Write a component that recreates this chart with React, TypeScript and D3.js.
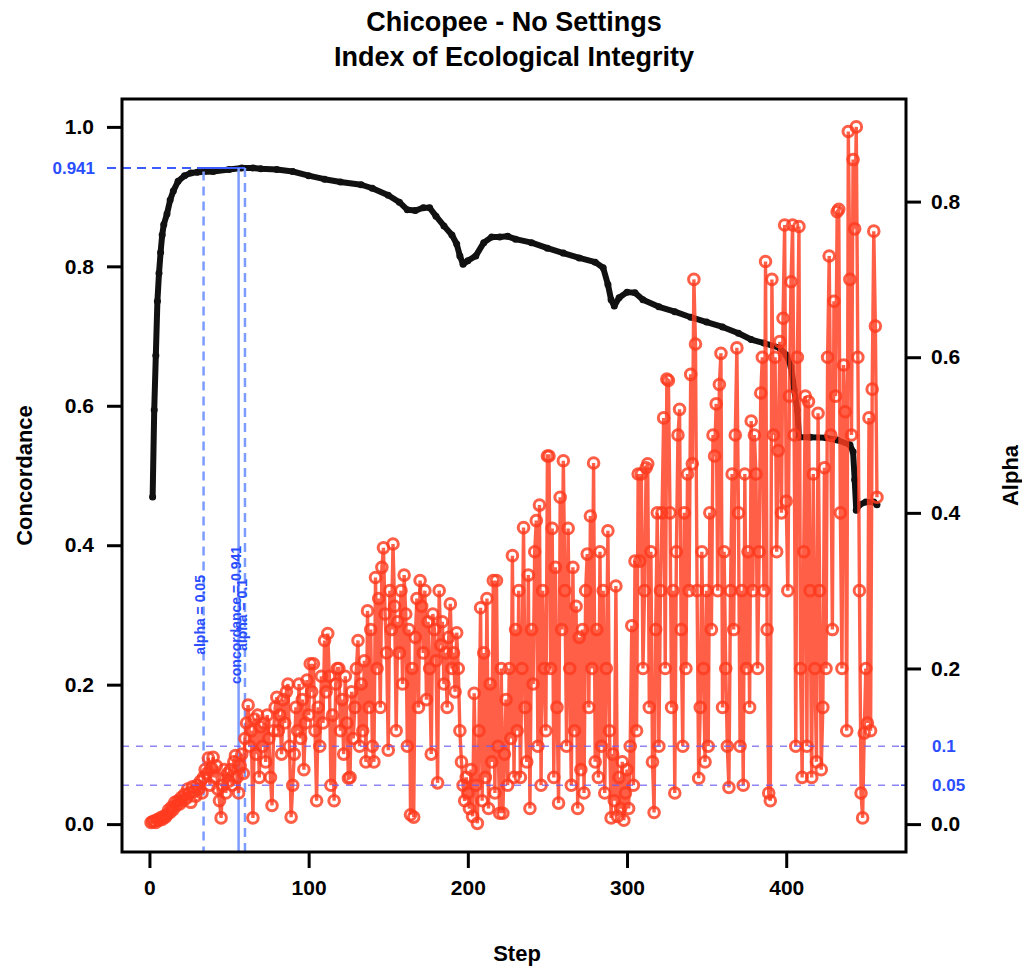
import React, { useEffect, useRef } from "react";
import * as d3 from "d3";

// chart text
const titleLines = ["Chicopee - No Settings", "Index of Ecological Integrity"];
const xLabel = "Step";
const yLeftLabel = "Concordance";
const yRightLabel = "Alpha";

// tick values
const stepTicks = [0, 100, 200, 300, 400];
const concTicks = [0, 0.2, 0.4, 0.6, 0.8, 1.0];
const alphaTicks = [0, 0.2, 0.4, 0.6, 0.8];
const alphaRefs = [0.1, 0.05];
const alphaRefLabels = ["0.1", "0.05"];

// concordance curve (at these steps)
const concSteps = [
  2, 3, 4, 5, 6, 7, 8, 9, 11, 13, 15, 18, 22, 26, 30, 40, 50, 58, 65, 70, 80,
  90, 100, 110, 120, 133, 140, 150, 157, 162, 167, 172, 176, 180, 185, 190,
  193, 195, 197, 200, 205, 210, 215, 220, 225, 230, 240, 250, 260, 270, 280,
  285, 288, 290, 292, 295, 300, 305, 310, 320, 330, 340, 350, 360, 370, 378,
  386, 396, 400, 403, 405, 407, 408, 415, 425, 432, 440, 442, 443, 444, 446,
  450, 455, 457,
];
const concValues = [
  0.469, 0.594, 0.672, 0.75, 0.79, 0.82, 0.845, 0.86, 0.875, 0.895, 0.908,
  0.922, 0.93, 0.934, 0.935, 0.936, 0.939, 0.941, 0.941, 0.94, 0.939, 0.936,
  0.93, 0.925, 0.921, 0.917, 0.912, 0.902, 0.892, 0.881, 0.88, 0.884, 0.884,
  0.872, 0.858, 0.845, 0.832, 0.815, 0.803, 0.808, 0.815, 0.834, 0.842, 0.842,
  0.843, 0.839, 0.834, 0.826, 0.819, 0.812, 0.806, 0.798, 0.774, 0.752, 0.743,
  0.755, 0.763, 0.762, 0.752, 0.742, 0.735, 0.727, 0.72, 0.713, 0.704, 0.695,
  0.69, 0.683, 0.673, 0.656, 0.623, 0.594, 0.555, 0.555, 0.554, 0.551, 0.544,
  0.534, 0.494, 0.45, 0.458, 0.462, 0.462, 0.458,
];

// alpha per step, steps 1..457
const alphaValues = [
  0.002, 0.003, 0.004, 0.002, 0.006, 0.005, 0.008, 0.006, 0.01, 0.009,
  0.012, 0.018, 0.015, 0.022, 0.019, 0.028, 0.024, 0.03, 0.026, 0.034,
  0.03, 0.038, 0.033, 0.045, 0.04, 0.028, 0.048, 0.042, 0.036, 0.05,
  0.045, 0.055, 0.04, 0.06, 0.07, 0.065, 0.085, 0.05, 0.072, 0.086,
  0.06, 0.075, 0.045, 0.03, 0.008, 0.05, 0.07, 0.04, 0.065, 0.055,
  0.07, 0.05, 0.08, 0.088, 0.06, 0.04, 0.075, 0.09, 0.065, 0.11,
  0.13, 0.153, 0.1, 0.12, 0.008, 0.135, 0.09, 0.14, 0.06, 0.125,
  0.1, 0.13, 0.08, 0.14, 0.11, 0.06, 0.024, 0.12, 0.15, 0.163,
  0.12, 0.14, 0.09, 0.16, 0.13, 0.17, 0.18, 0.1, 0.009, 0.05,
  0.09, 0.15, 0.12, 0.18, 0.11, 0.16, 0.07, 0.13, 0.185, 0.14,
  0.206, 0.17, 0.206, 0.12, 0.03, 0.15, 0.1, 0.19, 0.13, 0.236,
  0.17, 0.245, 0.19, 0.05, 0.14, 0.03, 0.18, 0.2, 0.2, 0.12,
  0.16, 0.09, 0.19, 0.13, 0.059, 0.06, 0.17, 0.11, 0.15, 0.2,
  0.236, 0.1, 0.18, 0.12, 0.21, 0.08, 0.274, 0.15, 0.25, 0.1,
  0.08, 0.317, 0.2, 0.29, 0.15, 0.33, 0.355, 0.27, 0.22, 0.095,
  0.3, 0.25, 0.36, 0.28, 0.12, 0.26, 0.22, 0.3, 0.18, 0.32,
  0.27, 0.1, 0.25, 0.012, 0.2, 0.009, 0.24, 0.29, 0.15, 0.313,
  0.28, 0.22, 0.3, 0.16, 0.26, 0.2, 0.09, 0.27, 0.25, 0.21,
  0.053, 0.3, 0.23, 0.26, 0.18, 0.22, 0.15, 0.24, 0.283, 0.2,
  0.22, 0.17, 0.246, 0.2, 0.12, 0.08, 0.05, 0.03, 0.06, 0.04,
  0.02, 0.07, 0.01, 0.168, 0.05, 0.001, 0.12, 0.278, 0.03, 0.22,
  0.06, 0.29, 0.02, 0.18, 0.08, 0.313, 0.04, 0.313, 0.1, 0.014,
  0.2, 0.014, 0.09, 0.16, 0.05, 0.2, 0.11, 0.345, 0.06, 0.25,
  0.12, 0.3, 0.06, 0.2, 0.381, 0.15, 0.08, 0.32, 0.02, 0.25,
  0.18, 0.35, 0.39, 0.1, 0.41, 0.05, 0.3, 0.2, 0.12, 0.473,
  0.473, 0.2, 0.38, 0.06, 0.33, 0.15, 0.027, 0.42, 0.25, 0.467,
  0.3, 0.1, 0.38, 0.2, 0.05, 0.33, 0.12, 0.28, 0.02, 0.24,
  0.07, 0.25, 0.04, 0.3, 0.347, 0.15, 0.396, 0.2, 0.464, 0.08,
  0.25, 0.06, 0.35, 0.1, 0.3, 0.04, 0.2, 0.377, 0.12, 0.008,
  0.09, 0.03, 0.306, 0.01, 0.06, 0.02, 0.08, 0.005, 0.04, 0.07,
  0.02, 0.1, 0.255, 0.05, 0.338, 0.12, 0.45, 0.338, 0.45, 0.2,
  0.3, 0.458, 0.463, 0.15, 0.35, 0.08, 0.015, 0.25, 0.4, 0.1,
  0.3, 0.4, 0.522, 0.2, 0.572, 0.57, 0.4, 0.15, 0.3, 0.04,
  0.35, 0.5, 0.533, 0.25, 0.1, 0.4, 0.2, 0.45, 0.3, 0.578,
  0.463, 0.7, 0.617, 0.3, 0.059, 0.15, 0.35, 0.2, 0.08, 0.3,
  0.1, 0.4, 0.25, 0.5, 0.473, 0.54, 0.3, 0.565, 0.605, 0.15,
  0.35, 0.2, 0.1, 0.047, 0.3, 0.45, 0.25, 0.5, 0.612, 0.4,
  0.1, 0.3, 0.05, 0.45, 0.2, 0.35, 0.15, 0.518, 0.3, 0.5,
  0.45, 0.2, 0.35, 0.554, 0.6, 0.3, 0.723, 0.25, 0.04, 0.03,
  0.7, 0.5, 0.6, 0.35, 0.48, 0.62, 0.4, 0.65, 0.77, 0.415,
  0.3, 0.55, 0.697, 0.77, 0.5, 0.1, 0.6, 0.768, 0.2, 0.06,
  0.35, 0.55, 0.1, 0.543, 0.3, 0.06, 0.45, 0.2, 0.08, 0.528,
  0.3, 0.07, 0.15, 0.458, 0.2, 0.6, 0.73, 0.5, 0.25, 0.672,
  0.55, 0.787, 0.79, 0.4, 0.2, 0.59, 0.53, 0.12, 0.89, 0.7,
  0.5, 0.854, 0.765, 0.896, 0.6, 0.3, 0.04, 0.008, 0.117, 0.2,
  0.13, 0.522, 0.12, 0.559, 0.762, 0.64, 0.42,
];

// vertical marker lines
const markerSteps = [34, 56, 60];
const markerLabels = ["alpha = 0.05", "concordance = 0.941", "alpha = 0.1"];
const markerDashed = [true, false, true];

const W = 1022;
const H = 968;
const FONT = "'Liberation Sans', Arial, Helvetica, sans-serif";
const plot = { left: 122, right: 906, top: 99, bottom: 852 };

const RED = "#ff3a1e";
const BLUE_LINE = "#7d9cff";
const BLUE_TEXT = "#2a4dff";
const REF_LINE = "#6a5cf0";

export default function App() {
  const svgRef = useRef<SVGSVGElement>(null);

  useEffect(() => {
    const svg = d3.select(svgRef.current);
    svg.selectAll("*").remove();

    const n = alphaValues.length;
    const x = d3
      .scaleLinear()
      .domain([1 - 0.04 * (n - 1), n + 0.04 * (n - 1)])
      .range([plot.left, plot.right]);
    const yL = d3
      .scaleLinear()
      .domain([-0.04, 1.04])
      .range([plot.bottom, plot.top]);
    const aMax = d3.max(alphaValues) as number;
    const yR = d3
      .scaleLinear()
      .domain([-0.04 * aMax, 1.04 * aMax])
      .range([plot.bottom, plot.top]);

    const concMax = d3.max(concValues) as number;
    const concMaxY = yL(concMax);

    // concordance (black)
    const conc = concSteps.map((s, i) => [s, concValues[i]] as [number, number]);
    const concLine = d3
      .line<[number, number]>()
      .x(d => x(d[0]))
      .y(d => yL(d[1]));
    svg
      .append("path")
      .attr("d", concLine(conc))
      .attr("fill", "none")
      .attr("stroke", "#111")
      .attr("stroke-width", 6)
      .attr("stroke-linejoin", "round")
      .attr("stroke-linecap", "round");
    svg
      .append("g")
      .selectAll("circle")
      .data(conc)
      .enter()
      .append("circle")
      .attr("cx", d => x(d[0]))
      .attr("cy", d => yL(d[1]))
      .attr("r", 3.5)
      .attr("fill", "#111");

    // top horizontal marker at max concordance
    svg
      .append("line")
      .attr("x1", plot.left - 15)
      .attr("x2", x(markerSteps[2]))
      .attr("y1", concMaxY)
      .attr("y2", concMaxY)
      .attr("stroke", "#3d5cff")
      .attr("stroke-width", 2)
      .attr("stroke-dasharray", "9,6");
    svg
      .append("line")
      .attr("x1", x(30))
      .attr("x2", x(markerSteps[2]))
      .attr("y1", concMaxY)
      .attr("y2", concMaxY)
      .attr("stroke", "#3d5cff")
      .attr("stroke-width", 2);
    svg
      .append("text")
      .attr("x", 95)
      .attr("y", concMaxY + 6)
      .attr("text-anchor", "end")
      .attr("font-family", FONT)
      .attr("font-weight", "bold")
      .attr("font-size", 17)
      .attr("fill", BLUE_TEXT)
      .text(concMax.toFixed(3));

    // vertical markers
    markerSteps.forEach((s, i) => {
      const ci = concSteps.findIndex(c => c >= s);
      const top = i === 0 ? yL(concValues[ci]) : concMaxY;
      svg
        .append("line")
        .attr("x1", x(s))
        .attr("x2", x(s))
        .attr("y1", top)
        .attr("y2", plot.bottom)
        .attr("stroke", BLUE_LINE)
        .attr("stroke-width", 2.5)
        .attr("stroke-dasharray", markerDashed[i] ? "9,6" : null);
      svg
        .append("text")
        .attr("transform", `translate(${x(s) - 3},${yL(0.3)}) rotate(-90)`)
        .attr("dy", "0.35em")
        .attr("text-anchor", "middle")
        .attr("font-family", FONT)
        .attr("font-weight", "bold")
        .attr("font-size", 14)
        .attr("fill", BLUE_TEXT)
        .text(markerLabels[i]);
    });

    // alpha (red)
    const alpha = alphaValues.map((v, i) => [i + 1, v] as [number, number]);
    const alphaLine = d3
      .line<[number, number]>()
      .x(d => x(d[0]))
      .y(d => yR(d[1]));
    const red = svg.append("g");
    red
      .append("path")
      .attr("d", alphaLine(alpha))
      .attr("fill", "none")
      .attr("stroke", RED)
      .attr("stroke-opacity", 0.82)
      .attr("stroke-width", 3.4);
    red
      .selectAll("circle")
      .data(alpha)
      .enter()
      .append("circle")
      .attr("cx", d => x(d[0]))
      .attr("cy", d => yR(d[1]))
      .attr("r", 5.3)
      .attr("fill", "none")
      .attr("stroke", RED)
      .attr("stroke-opacity", 0.82)
      .attr("stroke-width", 3);

    // alpha reference lines
    alphaRefs.forEach((a, i) => {
      svg
        .append("line")
        .attr("x1", plot.left)
        .attr("x2", plot.right)
        .attr("y1", yR(a))
        .attr("y2", yR(a))
        .attr("stroke", REF_LINE)
        .attr("stroke-width", 1.5)
        .attr("stroke-dasharray", "7,7")
        .attr("opacity", 0.75);
      svg
        .append("line")
        .attr("x1", plot.right - 5)
        .attr("x2", plot.right)
        .attr("y1", yR(a))
        .attr("y2", yR(a))
        .attr("stroke", "#3344dd")
        .attr("stroke-width", 1.5);
      svg
        .append("text")
        .attr("x", 932)
        .attr("y", yR(a) + 6)
        .attr("font-family", FONT)
        .attr("font-weight", "bold")
        .attr("font-size", 17)
        .attr("fill", BLUE_TEXT)
        .text(alphaRefLabels[i]);
    });

    // axes
    const styleAxis = (g: d3.Selection<SVGGElement, unknown, null, undefined>) => {
      g.attr("font-family", FONT).attr("font-size", 21).attr("font-weight", "bold");
      g.select(".domain").remove();
      g.selectAll(".tick line").attr("stroke", "#000").attr("stroke-width", 3);
      g.selectAll(".tick text").attr("fill", "#000");
    };
    svg
      .append("g")
      .attr("transform", `translate(${plot.left},0)`)
      .call(
        d3
          .axisLeft(yL)
          .tickValues(concTicks)
          .tickSize(15)
          .tickPadding(13)
          .tickFormat(d3.format(".1f"))
      )
      .call(styleAxis);
    svg
      .append("g")
      .attr("transform", `translate(${plot.right},0)`)
      .call(
        d3
          .axisRight(yR)
          .tickValues(alphaTicks)
          .tickSize(15)
          .tickPadding(10)
          .tickFormat(d3.format(".1f"))
      )
      .call(styleAxis);
    svg
      .append("g")
      .attr("transform", `translate(0,${plot.bottom})`)
      .call(
        d3
          .axisBottom(x)
          .tickValues(stepTicks)
          .tickSize(16)
          .tickPadding(12)
          .tickFormat(d3.format("d"))
      )
      .call(styleAxis);

    // box
    svg
      .append("rect")
      .attr("x", plot.left)
      .attr("y", plot.top)
      .attr("width", plot.right - plot.left)
      .attr("height", plot.bottom - plot.top)
      .attr("fill", "none")
      .attr("stroke", "#000")
      .attr("stroke-width", 3);

    // titles and axis labels
    const cx = (plot.left + plot.right) / 2;
    titleLines.forEach((t, i) => {
      svg
        .append("text")
        .attr("x", cx)
        .attr("y", 31 + i * 35)
        .attr("text-anchor", "middle")
        .attr("font-family", FONT)
        .attr("font-weight", "bold")
        .attr("font-size", 27)
        .text(t);
    });
    svg
      .append("text")
      .attr("x", cx + 3)
      .attr("y", 961)
      .attr("text-anchor", "middle")
      .attr("font-family", FONT)
      .attr("font-weight", "bold")
      .attr("font-size", 22)
      .text(xLabel);
    svg
      .append("text")
      .attr("transform", `translate(32,${(plot.top + plot.bottom) / 2}) rotate(-90)`)
      .attr("text-anchor", "middle")
      .attr("font-family", FONT)
      .attr("font-weight", "bold")
      .attr("font-size", 22)
      .text(yLeftLabel);
    svg
      .append("text")
      .attr("transform", `translate(1018,${(plot.top + plot.bottom) / 2}) rotate(-90)`)
      .attr("text-anchor", "middle")
      .attr("font-family", FONT)
      .attr("font-weight", "bold")
      .attr("font-size", 22)
      .text(yRightLabel);
  }, []);

  return (
    <svg
      ref={svgRef}
      width={W}
      height={H}
      style={{ position: "absolute", left: 0, top: 0, background: "#fff" }}
    />
  );
}
